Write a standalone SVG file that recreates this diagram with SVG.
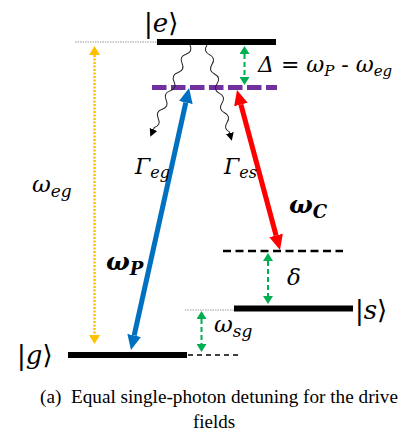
<svg xmlns="http://www.w3.org/2000/svg" width="402" height="437" viewBox="0 0 402 437">
<style>
.lvl{fill:#000}
.gray{stroke:#999;stroke-width:1;stroke-dasharray:1.5 1}
.math{font-family:"DejaVu Serif","Liberation Serif",serif;font-style:italic;fill:#000}
.up{font-family:"DejaVu Sans","DejaVu Serif",serif;font-style:normal;font-weight:normal}
.cap{font-family:"Liberation Serif","Times New Roman",serif;font-size:19px;fill:#000}
.grn{stroke:#00B050;stroke-width:2;stroke-dasharray:5 3;fill:none}
.wave{stroke:#222;stroke-width:1;fill:none}
</style>
<defs>
<marker id="hb" markerUnits="userSpaceOnUse" markerWidth="16" markerHeight="14" refX="0" refY="7" orient="auto-start-reverse"><path d="M0,0 L15,7 L0,14 z" fill="#0070C0"/></marker>
<marker id="hr" markerUnits="userSpaceOnUse" markerWidth="16" markerHeight="14" refX="0" refY="7" orient="auto-start-reverse"><path d="M0,0 L15,7 L0,14 z" fill="#FF0000"/></marker>
<marker id="hg" markerUnits="userSpaceOnUse" markerWidth="9" markerHeight="10" refX="0" refY="5" orient="auto-start-reverse"><path d="M0,0 L8,5 L0,10 z" fill="#00B050"/></marker>
<marker id="hy" markerUnits="userSpaceOnUse" markerWidth="10" markerHeight="11" refX="0" refY="5.5" orient="auto-start-reverse"><path d="M0,0 L9,5.5 L0,11 z" fill="#FFC000"/></marker>
<marker id="hk" markerUnits="userSpaceOnUse" markerWidth="9" markerHeight="9" refX="0" refY="4" orient="auto"><path d="M0,0 L8,4 L0,8 z" fill="#000"/></marker>
</defs>

<g id="guides">
<line class="gray" x1="75" y1="42" x2="157" y2="42"/>
<line class="gray" x1="185" y1="310" x2="234" y2="310"/>
</g>

<g id="level-e">
<rect class="lvl" x="157" y="39" width="119" height="6"/>
<text class="math" x="144" y="32" font-size="26"><tspan class="up">|</tspan>e<tspan class="up">⟩</tspan></text>
</g>

<g id="virtual-level">
<line x1="152" y1="87.5" x2="277" y2="87.5" stroke="#7030A0" stroke-width="5" stroke-dasharray="14.5 4.5"/>
</g>

<g id="two-photon-level">
<line x1="223" y1="251" x2="343" y2="251" stroke="#000" stroke-width="2.5" stroke-dasharray="8 4.5"/>
</g>

<g id="level-s">
<rect class="lvl" x="234" y="305.5" width="119" height="6"/>
<text class="math" x="355" y="319" font-size="26"><tspan class="up">|</tspan>s<tspan class="up">⟩</tspan></text>
</g>

<g id="level-g">
<rect class="lvl" x="68" y="352" width="119" height="6"/>
<line x1="188" y1="355" x2="240" y2="355" stroke="#000" stroke-width="1.5" stroke-dasharray="5 4"/>
<text class="math" x="17" y="364" font-size="26"><tspan class="up">|</tspan>g<tspan class="up">⟩</tspan></text>
</g>

<g id="connectors">
<line x1="94.5" y1="55" x2="94.5" y2="335" stroke="#FFC000" stroke-width="2.5" stroke-dasharray="2 1.5" marker-start="url(#hy)" marker-end="url(#hy)"/>
<line x1="134.2" y1="335.4" x2="185.8" y2="102.6" stroke="#0070C0" stroke-width="5" marker-start="url(#hb)" marker-end="url(#hb)"/>
<line x1="240.9" y1="104.5" x2="276.1" y2="235.5" stroke="#FF0000" stroke-width="5" marker-start="url(#hr)" marker-end="url(#hr)"/>
<line class="grn" x1="244.5" y1="54" x2="244.5" y2="77" marker-start="url(#hg)" marker-end="url(#hg)"/>
<line class="grn" x1="268" y1="261" x2="268" y2="296" marker-start="url(#hg)" marker-end="url(#hg)"/>
<line class="grn" x1="201.5" y1="319" x2="201.5" y2="344" marker-start="url(#hg)" marker-end="url(#hg)"/>
<path class="wave" transform="translate(190,45) rotate(23.4)" d="M0,0 Q5.5,5 0,10 T0,20 T0,30 T0,40 T0,50 T0,60 T0,70 T0,80 T0,90 L0,92" marker-end="url(#hk)"/>
<path class="wave" transform="translate(207,45) rotate(-14.5)" d="M0,0 Q-5.5,5 0,10 T0,20 T0,30 T0,40 T0,50 T0,60 T0,70 T0,80 T0,90 L0,91" marker-end="url(#hk)"/>
</g>

<g id="labels">
<text class="math" x="258" y="72" font-size="22">Δ<tspan font-style="normal"> = </tspan>ω<tspan font-size="15" dy="4">P</tspan><tspan font-style="normal" dy="-4"> - </tspan>ω<tspan font-size="15" dy="4">eg</tspan></text>
<text class="math" x="135" y="174" font-size="22">Γ<tspan font-size="16" dy="4">eg</tspan></text>
<text class="math" x="224" y="174" font-size="22">Γ<tspan font-size="16" dy="4">es</tspan></text>
<text class="math" x="32" y="192" font-size="23">ω<tspan font-size="17" dy="5">eg</tspan></text>
<text class="math" x="106" y="270" font-size="25" font-weight="bold">ω<tspan font-size="18" dy="5">P</tspan></text>
<text class="math" x="289" y="213" font-size="25" font-weight="bold">ω<tspan font-size="18" dy="5">C</tspan></text>
<text class="math" x="287" y="285" font-size="23">δ</text>
<text class="math" x="214" y="332" font-size="23">ω<tspan font-size="17" dy="5">sg</tspan></text>
</g>

<g id="caption">
<text class="cap" x="40" y="403" textLength="358" lengthAdjust="spacingAndGlyphs" xml:space="preserve">(a)  Equal single-photon detuning for the drive</text>
<text class="cap" x="214" y="428" text-anchor="middle">fields</text>
</g>
</svg>
